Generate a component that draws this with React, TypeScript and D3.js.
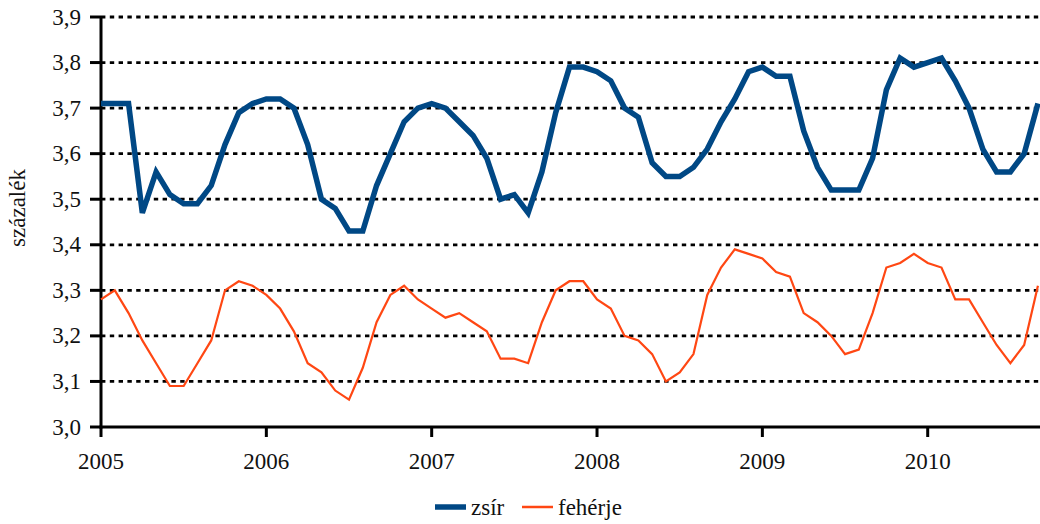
import React from "react";
import * as d3 from "d3";

const years = [2005, 2006, 2007, 2008, 2009, 2010];
const yTicks = [3.0, 3.1, 3.2, 3.3, 3.4, 3.5, 3.6, 3.7, 3.8, 3.9];

// monthly values, Jan 2005 .. Sep 2010
const zsir = [
  3.71, 3.71, 3.71, 3.47, 3.56, 3.51, 3.49, 3.49, 3.53, 3.62, 3.69, 3.71,
  3.72, 3.72, 3.70, 3.62, 3.50, 3.48, 3.43, 3.43, 3.53, 3.60, 3.67, 3.70,
  3.71, 3.70, 3.67, 3.64, 3.59, 3.50, 3.51, 3.47, 3.56, 3.69, 3.79, 3.79,
  3.78, 3.76, 3.70, 3.68, 3.58, 3.55, 3.55, 3.57, 3.61, 3.67, 3.72, 3.78,
  3.79, 3.77, 3.77, 3.65, 3.57, 3.52, 3.52, 3.52, 3.59, 3.74, 3.81, 3.79,
  3.80, 3.81, 3.76, 3.70, 3.61, 3.56, 3.56, 3.60, 3.71,
];
const feherje = [
  3.28, 3.30, 3.25, 3.19, 3.14, 3.09, 3.09, 3.14, 3.19, 3.30, 3.32, 3.31,
  3.29, 3.26, 3.21, 3.14, 3.12, 3.08, 3.06, 3.13, 3.23, 3.29, 3.31, 3.28,
  3.26, 3.24, 3.25, 3.23, 3.21, 3.15, 3.15, 3.14, 3.23, 3.30, 3.32, 3.32,
  3.28, 3.26, 3.20, 3.19, 3.16, 3.10, 3.12, 3.16, 3.29, 3.35, 3.39, 3.38,
  3.37, 3.34, 3.33, 3.25, 3.23, 3.20, 3.16, 3.17, 3.25, 3.35, 3.36, 3.38,
  3.36, 3.35, 3.28, 3.28, 3.23, 3.18, 3.14, 3.18, 3.31,
];

const BLUE = "#004885";
const ORANGE = "#FF4713";
const FONT = "Liberation Serif";

function T(props: any) {
  const { children, ...rest } = props;
  return (
    <text
      fontFamily={FONT}
      fontSize={23}
      fill="#111"
      style={{ fontFamily: `"${FONT}"`, fontSize: "23px" }}
      {...rest}
    >
      {children}
    </text>
  );
}

export default function App() {
  const left = 101;
  const right = 1040;
  const top = 17;
  const bottom = 427;
  const x = d3.scaleLinear().domain([0, 68.15]).range([left, right]);
  const y = d3.scaleLinear().domain([3.0, 3.9]).range([bottom, top]);
  const line = d3
    .line<number>()
    .x((_, i) => x(i))
    .y((d) => y(d));

  return (
    <div style={{ position: "absolute", left: 0, top: 0, fontFamily: `"${FONT}"` }}>
      <svg width={1040} height={524} style={{ display: "block", background: "#fff" }}>
        <style>{`text { font-family: "${FONT}"; font-size: 23px; }`}</style>
        {/* gridlines */}
        {yTicks.slice(1).map((t) => (
          <line
            key={"g" + t}
            x1={left}
            x2={right}
            y1={y(t)}
            y2={y(t)}
            stroke="#000"
            strokeWidth={2.8}
            strokeDasharray="4.4 4.4"
          />
        ))}
        {/* y ticks + labels */}
        {yTicks.map((t) => (
          <g key={"y" + t}>
            <line x1={90} x2={left} y1={y(t)} y2={y(t)} stroke="#000" strokeWidth={3} />
            <T x={81} y={y(t)} dy="0.33em" textAnchor="end">
              {t.toFixed(1).replace(".", ",")}
            </T>
          </g>
        ))}
        {/* x ticks + labels */}
        {years.map((yr, i) => (
          <g key={"x" + yr}>
            <line
              x1={x(i * 12)}
              x2={x(i * 12)}
              y1={bottom}
              y2={bottom + 10}
              stroke="#000"
              strokeWidth={3}
            />
            <T x={x(i * 12)} y={469} textAnchor="middle">
              {yr}
            </T>
          </g>
        ))}
        {/* axes */}
        <line x1={left} x2={left} y1={top} y2={bottom + 1.5} stroke="#000" strokeWidth={3} />
        <line x1={left - 1.5} x2={right} y1={bottom} y2={bottom} stroke="#000" strokeWidth={3} />

        {/* series */}
        <path d={line(feherje) || ""} fill="none" stroke={ORANGE} strokeWidth={2.2} />
        <path d={line(zsir) || ""} fill="none" stroke={BLUE} strokeWidth={5.5} />

        {/* y title */}
        <T transform="translate(25,208) rotate(-90)" textAnchor="middle">
          százalék
        </T>

        {/* legend */}
        <line x1={435} x2={466} y1={507} y2={507} stroke={BLUE} strokeWidth={5.5} />
        <T x={471} y={515}>zsír</T>
        <line x1={522} x2={553} y1={507} y2={507} stroke={ORANGE} strokeWidth={2.5} />
        <T x={558} y={515}>fehérje</T>
      </svg>
    </div>
  );
}
